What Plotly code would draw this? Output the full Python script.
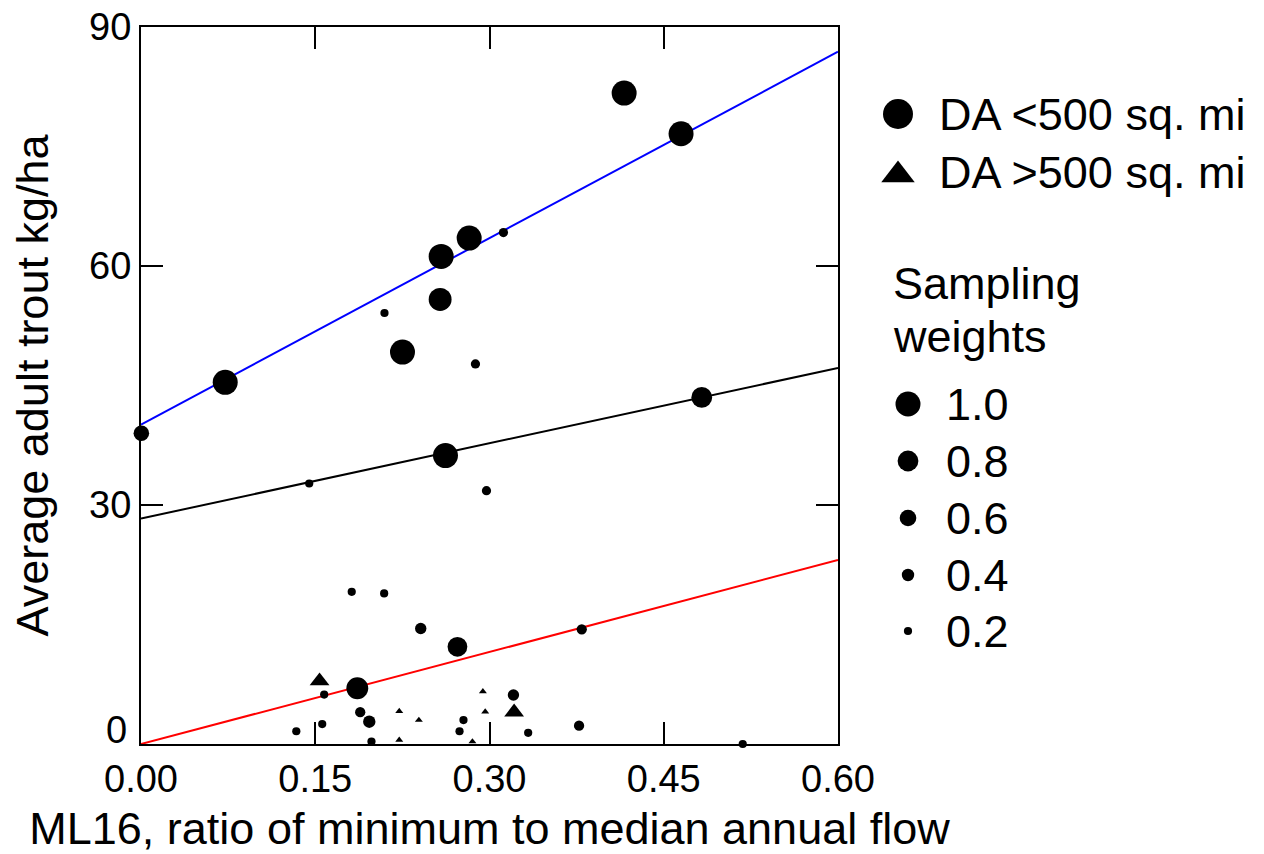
import plotly.graph_objects as go

# ---------------- data ----------------
# DA < 500 sq. mi (circles)
circ_x = [0.0725, 0.4159, 0.4649, 0.2584, 0.2825, 0.2575, 0.2251, 0.2621, 0.3120, 0.2096,
          0.2879, 0.1448, 0.2974, 0.0003, 0.4827, 0.1814, 0.2093, 0.2408, 0.2724, 0.3794,
          0.3206, 0.3771, 0.3333, 0.5180, 0.1862, 0.1577, 0.1887, 0.1965, 0.1337, 0.1560,
          0.1984, 0.2776, 0.2742]
circ_y = [45.4, 81.7, 76.6, 61.2, 63.5, 55.8, 49.2, 36.2, 64.2, 54.1,
          47.7, 32.7, 31.8, 39.0, 43.5, 19.1, 18.9, 14.5, 12.2, 14.4,
          6.15, 2.3, 1.4, 0.0, 7.0, 6.2, 4.0, 2.8, 1.6, 2.5,
          0.3, 3.0, 1.6]
circ_w = [1.0, 1.0, 1.0, 1.0, 1.0, 0.9, 1.0, 1.0, 0.25, 0.2,
          0.25, 0.2, 0.25, 0.55, 0.8, 0.2, 0.2, 0.35, 0.75, 0.3,
          0.35, 0.3, 0.2, 0.2, 0.85, 0.2, 0.3, 0.4, 0.2, 0.2,
          0.2, 0.2, 0.2]

# DA > 500 sq. mi (triangles)
tri_x = [0.1537, 0.3212, 0.2223, 0.2392, 0.2223, 0.2943, 0.2963, 0.2853]
tri_y = [7.9, 4.0, 4.1, 3.0, 0.5, 6.6, 4.05, 0.3]
tri_w = [0.9, 0.9, 0.25, 0.25, 0.25, 0.25, 0.25, 0.25]

# quantile regression lines
line_names = ["upper", "middle", "lower"]
line_intercepts = [40.1, 28.3, 0.0]
line_slopes = [78.0, 31.5, 38.5]
line_colors = ["#0000ff", "#000000", "#ff0000"]
line_x = [0.0, 0.6]

# legend content
legend_weights = [1.0, 0.8, 0.6, 0.4, 0.2]
legend_weight_labels = ["1.0", "0.8", "0.6", "0.4", "0.2"]

x_ticks = [0.0, 0.15, 0.30, 0.45, 0.60]
y_ticks = [0, 30, 60, 90]

FONT = "Arial, Liberation Sans, sans-serif"


def csize(w):
    return 4 + 21 * w


def tsize(w):
    return 0.75 * (4 + 21 * w)


# ---------------- layout geometry ----------------
W, H = 1264, 854
ML, MR, MT, MB = 141, 0, 27, 110
paper_w = W - ML - MR
plot_right = 838
x_dom_end = (plot_right - ML) / paper_w
leg_left_px = 860
leg_dom_start = (leg_left_px - ML) / paper_w

fig = go.Figure()

for name, b0, b1, col in zip(line_names, line_intercepts, line_slopes, line_colors):
    fig.add_trace(go.Scatter(
        x=line_x, y=[b0 + b1 * v for v in line_x], mode="lines",
        line=dict(color=col, width=2), name=name, showlegend=False,
        hoverinfo="skip", cliponaxis=False))

fig.add_trace(go.Scatter(
    x=circ_x, y=circ_y, mode="markers", name="DA <500 sq. mi",
    marker=dict(symbol="circle", color="black", opacity=1,
                size=[csize(w) for w in circ_w], line=dict(width=0)),
    showlegend=False, cliponaxis=False))

fig.add_trace(go.Scatter(
    x=tri_x, y=tri_y, mode="markers", name="DA >500 sq. mi",
    marker=dict(symbol="triangle-up", color="black", opacity=1,
                size=[tsize(w) for w in tri_w], line=dict(width=0)),
    showlegend=False, cliponaxis=False))

# ---------------- custom legend (pixel coordinate axes) ----------------
leg_x_circle = 898
leg_text_x = 937
da_rows_y = [114, 172]
fig.add_trace(go.Scatter(
    x=[leg_x_circle], y=[da_rows_y[0]], xaxis="x2", yaxis="y2", mode="markers",
    marker=dict(symbol="circle", color="black", size=30, opacity=1, line=dict(width=0)),
    showlegend=False, hoverinfo="skip", cliponaxis=False))
fig.add_trace(go.Scatter(
    x=[leg_x_circle], y=[da_rows_y[1] + 3], xaxis="x2", yaxis="y2", mode="markers",
    marker=dict(symbol="triangle-up", color="black", size=29, opacity=1, line=dict(width=0)),
    showlegend=False, hoverinfo="skip", cliponaxis=False))

w_rows_y = [404, 461, 518, 575, 631]
fig.add_trace(go.Scatter(
    x=[908] * len(legend_weights), y=w_rows_y, xaxis="x2", yaxis="y2", mode="markers",
    marker=dict(symbol="circle", color="black", opacity=1,
                size=[csize(w) for w in legend_weights], line=dict(width=0)),
    showlegend=False, hoverinfo="skip", cliponaxis=False))

annotations = []
for txt, yy in zip(["DA <500 sq. mi", "DA >500 sq. mi"], da_rows_y):
    annotations.append(dict(x=leg_text_x, y=yy, xref="x2", yref="y2", text=txt,
                            showarrow=False, xanchor="left", yanchor="middle",
                            font=dict(family=FONT, size=45, color="black")))
for txt, yy in zip(["Sampling", "weights"], [283, 336]):
    annotations.append(dict(x=891, y=yy, xref="x2", yref="y2", text=txt,
                            showarrow=False, xanchor="left", yanchor="middle",
                            font=dict(family=FONT, size=45, color="black")))
for txt, yy in zip(legend_weight_labels, w_rows_y):
    annotations.append(dict(x=944, y=yy, xref="x2", yref="y2", text=txt,
                            showarrow=False, xanchor="left", yanchor="middle",
                            font=dict(family=FONT, size=45, color="black")))
# the "0" y tick label is drawn slightly raised, as in the original
annotations.append(dict(x=0, y=0, xref="paper", yref="y", text="0", showarrow=False,
                        xanchor="right", yanchor="middle", xshift=-12, yshift=14,
                        font=dict(family=FONT, size=38, color="black")))

axis_common = dict(showline=True, linecolor="black", linewidth=2, mirror="ticks",
                   ticks="inside", ticklen=22, tickwidth=2, tickcolor="black",
                   showgrid=False, zeroline=False,
                   tickfont=dict(family=FONT, size=38, color="black"))

fig.update_layout(
    width=W, height=H,
    margin=dict(l=ML, r=MR, t=MT, b=MB, autoexpand=False),
    paper_bgcolor="white", plot_bgcolor="white",
    showlegend=False,
    xaxis=dict(range=[0, 0.6], domain=[0, x_dom_end], tickvals=x_ticks,
               ticktext=[f"{v:.2f}" for v in x_ticks],
               title=dict(text="ML16, ratio of minimum to median annual flow",
                          font=dict(family=FONT, size=45, color="black"), standoff=18),
               **axis_common),
    yaxis=dict(range=[0, 90], domain=[0, 1], tickvals=y_ticks,
               ticktext=["" if v == 0 else str(v) for v in y_ticks],
               title=dict(text="Average adult trout kg/ha",
                          font=dict(family=FONT, size=45, color="black"), standoff=26),
               **axis_common),
    xaxis2=dict(domain=[leg_dom_start, 1], range=[ML + leg_dom_start * paper_w, W],
                anchor="y2", visible=False, fixedrange=True),
    yaxis2=dict(domain=[0, 1], range=[H - MB, MT], anchor="x2", visible=False,
                fixedrange=True),
    annotations=annotations,
)

fig.write_html("out.html")
